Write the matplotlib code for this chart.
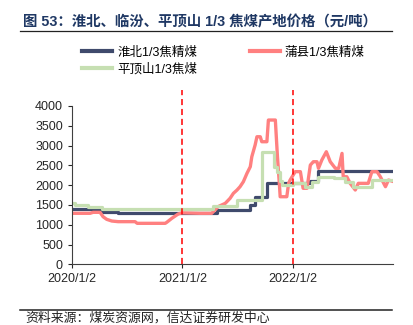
import numpy as np
import pandas as pd
import matplotlib
matplotlib.use("Agg")
import matplotlib.pyplot as plt
from matplotlib.lines import Line2D

plt.rcParams['font.family'] = ['Liberation Sans', 'Noto Sans CJK SC', 'DejaVu Sans']

# 淮北1/3焦精煤
hb_dates = ['2020-01-02', '2020-04-04', '2020-06-03', '2020-12-31', '2021-04-26',
            '2021-08-15', '2021-08-31', '2021-10-09', '2022-03-02', '2022-03-26', '2022-12-01']
hb_vals = [1389, 1329, 1288, 1303, 1371, 1497, 1707, 2060, 2110, 2356, 2356]

# 平顶山1/3焦煤
pds_dates = ['2020-01-02', '2020-01-12', '2020-02-25', '2020-04-09', '2021-04-14',
             '2021-07-01', '2021-09-24', '2021-11-02', '2021-11-10', '2021-11-20',
             '2021-11-27', '2022-01-05', '2022-02-13', '2022-03-07', '2022-03-29',
             '2022-05-18', '2022-06-26', '2022-07-23', '2022-09-22', '2022-12-01']
pds_vals = [1540, 1497, 1455, 1396, 1480, 1624, 2843, 2465, 2340, 2100, 2003,
            2045, 1960, 2086, 2197, 2172, 2086, 1960, 2129, 2129]

# 蒲县1/3焦精煤
px_dates = ['2020-01-02', '2020-03-02', '2020-03-12', '2020-04-04', '2020-04-14',
            '2020-04-26', '2020-05-13', '2020-06-03', '2020-07-29', '2020-08-05',
            '2020-11-06', '2020-11-11', '2020-11-28', '2020-12-19', '2020-12-31',
            '2021-03-02', '2021-04-09', '2021-04-20', '2021-04-30', '2021-05-24',
            '2021-06-09', '2021-06-20', '2021-07-02', '2021-07-12', '2021-07-23',
            '2021-08-04', '2021-08-15', '2021-08-20', '2021-08-31', '2021-09-06',
            '2021-09-17', '2021-09-22', '2021-10-09', '2021-10-14', '2021-11-06',
            '2021-11-13', '2021-11-20', '2021-11-22', '2021-12-14', '2021-12-20',
            '2021-12-25', '2022-01-11', '2022-01-28', '2022-02-06', '2022-02-19',
            '2022-03-02', '2022-03-12', '2022-03-24', '2022-03-29', '2022-04-09',
            '2022-04-24', '2022-05-07', '2022-05-24', '2022-06-04', '2022-06-15',
            '2022-06-19', '2022-07-01', '2022-07-12', '2022-07-29', '2022-08-08',
            '2022-09-10', '2022-09-22', '2022-10-09', '2022-10-20', '2022-11-06',
            '2022-11-16', '2022-11-28']
px_vals = [1288, 1288, 1313, 1313, 1202, 1136, 1093, 1077, 1077, 1035,
           1035, 1060, 1162, 1270, 1300, 1288, 1288, 1371, 1455, 1540,
           1667, 1793, 1876, 1960, 2086, 2298, 2465, 2717, 3013, 3222,
           3222, 3096, 3096, 3644, 3644, 2717, 1960, 1707, 1707, 2045,
           2129, 2340, 2340, 1920, 1920, 2507, 2591, 2591, 2424, 2633,
           2843, 2591, 2424, 2424, 2802, 2212, 2212, 2045, 1876, 2045,
           2045, 2340, 2340, 2212, 1960, 2129, 2100]

xtick_labels = ['2020/1/2', '2021/1/2', '2022/1/2']
vline_dates = ['2021-01-02', '2022-01-02']

c_hb = '#3F4A6C'
c_px = '#FF8080'
c_pds = '#C6DFB2'

fig = plt.figure(figsize=(4.14, 3.25), dpi=100)
ax = fig.add_axes([72/414, (325-264.3)/325, (393-72)/414, (264.3-90.1)/325])

ax.plot(pd.to_datetime(hb_dates), hb_vals, color=c_hb, lw=2.3, drawstyle='steps-post')
ax.plot(pd.to_datetime(px_dates), px_vals, color=c_px, lw=2.4)
ax.plot(pd.to_datetime(pds_dates), pds_vals, color=c_pds, lw=2.3, drawstyle='steps-post')

for d in vline_dates:
    ax.axvline(pd.Timestamp(d), color='#FF0000', lw=1.1, ls=(0, (4, 2.5)))

ax.set_ylim(0, 4400)
ax.set_xlim(pd.Timestamp('2020-01-02'), pd.Timestamp('2022-12-01'))
ax.set_yticks(np.arange(0, 4001, 500))
ax.set_xticks(pd.to_datetime(['2020-01-02', '2021-01-02', '2022-01-02']))
ax.set_xticklabels(xtick_labels)
ax.tick_params(labelsize=9, colors='#262626', length=3, width=0.8)
ax.spines['top'].set_visible(False)
ax.spines['right'].set_visible(False)
ax.spines['left'].set_bounds(0, 4000)
for s in ['left', 'bottom']:
    ax.spines[s].set_color('#404040')
    ax.spines[s].set_linewidth(0.8)

handles = [Line2D([], [], color=c_hb, lw=3),
           Line2D([], [], color=c_pds, lw=3),
           Line2D([], [], color=c_px, lw=3)]
labels = ['淮北1/3焦精煤', '平顶山1/3焦煤', '蒲县1/3焦精煤']
fig.legend(handles, labels, ncol=2, loc='upper left', bbox_to_anchor=(76/414, 1 - 40/325),
           frameon=False, fontsize=9, handlelength=2.4, handletextpad=0.4,
           columnspacing=4.2, labelspacing=0.35, borderpad=0)

fig.text(23/414, 1 - 22/325, '图 53：淮北、临汾、平顶山 1/3 焦煤产地价格（元/吨）',
         fontsize=10.4, fontweight='bold', color='#1F3864', va='center', ha='left')
fig.add_artist(Line2D([20/414, 392/414], [1 - 31/325, 1 - 31/325], color='#222222', lw=0.9))
fig.add_artist(Line2D([20/414, 392/414], [1 - 310/325, 1 - 310/325], color='#222222', lw=1.1))
fig.text(25/414, 1 - 318/325, '资料来源：煤炭资源网，信达证券研发中心',
         fontsize=9.3, style='italic', color='#222222', va='center', ha='left')

fig.savefig('out.png', dpi=100)
